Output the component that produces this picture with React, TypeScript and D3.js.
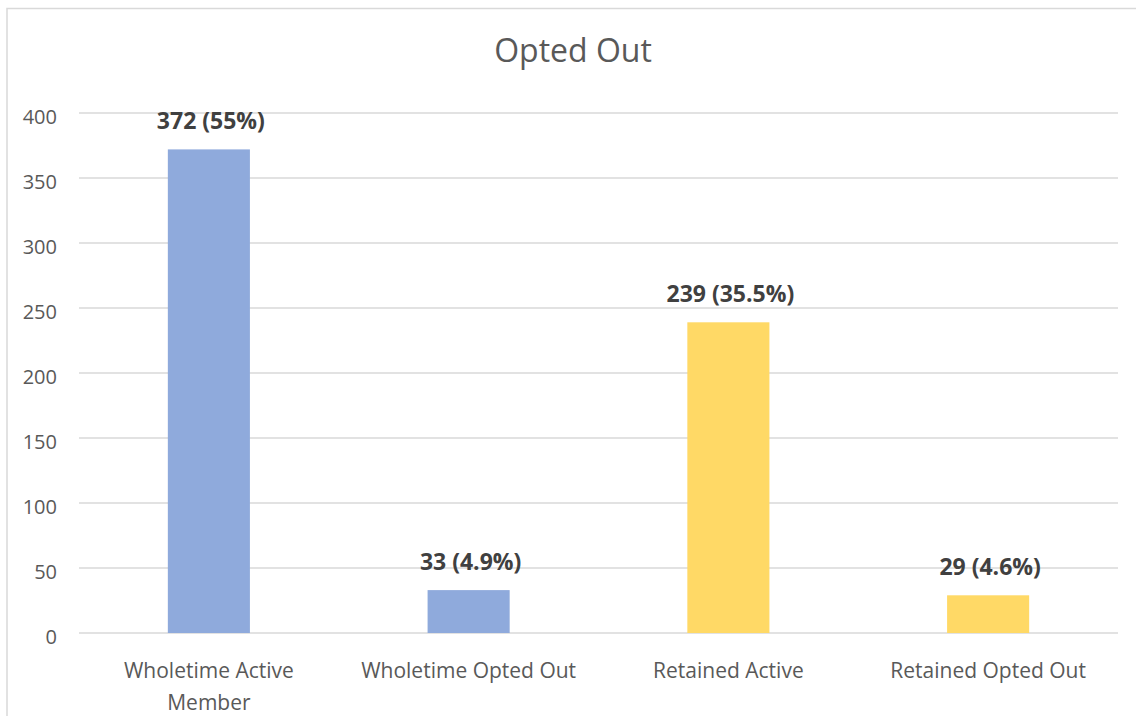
import * as d3 from 'd3';

const width = 1136;
const height = 716;

const categories = ['Wholetime Active Member', 'Wholetime Opted Out', 'Retained Active', 'Retained Opted Out'];
const categoryLines = [['Wholetime Active', 'Member'], ['Wholetime Opted Out'], ['Retained Active'], ['Retained Opted Out']];
const values = [372, 33, 239, 29];
const percents = ['55%', '4.9%', '35.5%', '4.6%'];
const barColors = ['#8faadc', '#8faadc', '#ffd966', '#ffd966'];
const yTicks = [0, 50, 100, 150, 200, 250, 300, 350, 400];

const font = '"Open Sans", sans-serif';

const App = () => {
  const x = d3.scaleBand<string>().domain(categories).range([79, 1118]).paddingInner(0.684).paddingOuter(0.342);
  const y = d3.scaleLinear().domain([0, 400]).range([633, 113]);

  return (
    <svg width={width} height={height} style={{ position: 'absolute', left: 0, top: 0, background: '#fff' }}>
      {/* chart border (runs off the right and bottom edges) */}
      <rect x={7} y={8.5} width={1200} height={800} fill="none" stroke="#d9d9d9" strokeWidth={1.5} />

      <text x={573} y={62} textAnchor="middle" fill="#595959" fontFamily={font} fontSize={32}>
        Opted Out
      </text>

      {yTicks.map((t) => (
        <g key={t}>
          <line x1={79} x2={1118} y1={y(t)} y2={y(t)} stroke="#d9d9d9" strokeWidth={1.3} />
          <text x={57} y={y(t) + 11} textAnchor="end" fill="#595959" fontFamily={font} fontSize={20}>
            {t}
          </text>
        </g>
      ))}

      {categories.map((c, i) => (
        <g key={c}>
          <rect x={x(c)} y={y(values[i])} width={x.bandwidth()} height={y(0) - y(values[i])} fill={barColors[i]} />
          <text
            x={x(c)! + x.bandwidth() / 2 + 2}
            y={y(values[i]) - 20}
            textAnchor="middle"
            fill="#404040"
            fontFamily={font}
            fontWeight="bold"
            fontSize={23}
          >
            {`${values[i]} (${percents[i]})`}
          </text>
          {categoryLines[i].map((line, j) => (
            <text
              key={line}
              x={x(c)! + x.bandwidth() / 2}
              y={678 + j * 32}
              textAnchor="middle"
              fill="#595959"
              fontFamily={font}
              fontSize={21}
            >
              {line}
            </text>
          ))}
        </g>
      ))}
    </svg>
  );
};

export default App;
